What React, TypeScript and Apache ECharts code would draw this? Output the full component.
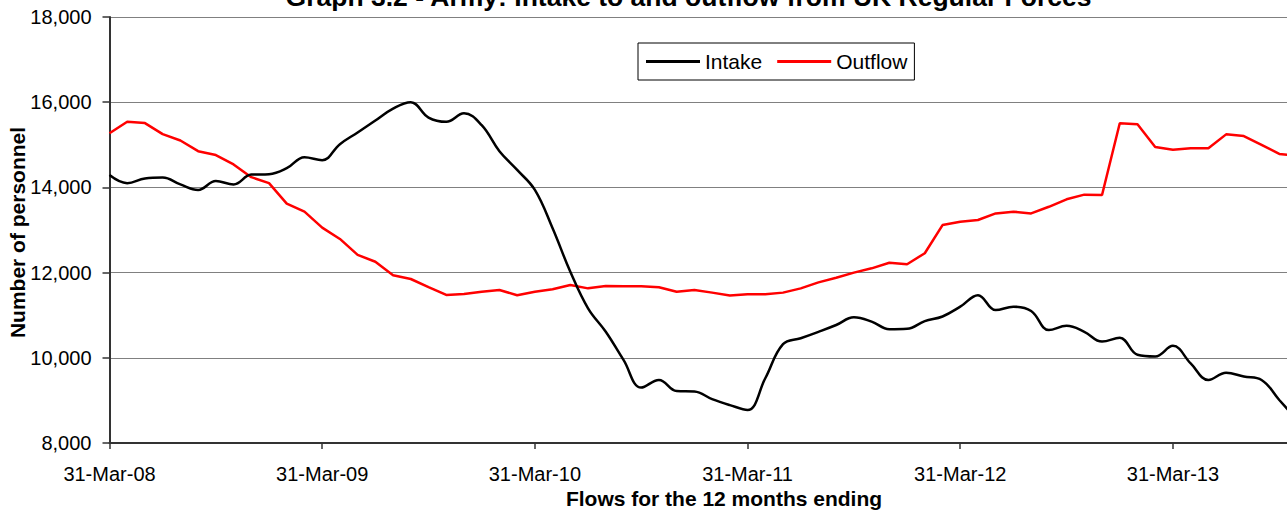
import React, { useEffect, useRef } from "react";
import * as echarts from "echarts";

const categories: string[] = [
  "31-Mar-08", "30-Apr-08", "31-May-08", "30-Jun-08", "31-Jul-08", "31-Aug-08", "30-Sep-08", "31-Oct-08", "30-Nov-08", "31-Dec-08",
  "31-Jan-09", "28-Feb-09", "31-Mar-09", "30-Apr-09", "31-May-09", "30-Jun-09", "31-Jul-09", "31-Aug-09", "30-Sep-09", "31-Oct-09", "30-Nov-09", "31-Dec-09",
  "31-Jan-10", "28-Feb-10", "31-Mar-10", "30-Apr-10", "31-May-10", "30-Jun-10", "31-Jul-10", "31-Aug-10", "30-Sep-10", "31-Oct-10", "30-Nov-10", "31-Dec-10",
  "31-Jan-11", "28-Feb-11", "31-Mar-11", "30-Apr-11", "31-May-11", "30-Jun-11", "31-Jul-11", "31-Aug-11", "30-Sep-11", "31-Oct-11", "30-Nov-11", "31-Dec-11",
  "31-Jan-12", "29-Feb-12", "31-Mar-12", "30-Apr-12", "31-May-12", "30-Jun-12", "31-Jul-12", "31-Aug-12", "30-Sep-12", "31-Oct-12", "30-Nov-12", "31-Dec-12",
  "31-Jan-13", "28-Feb-13", "31-Mar-13", "30-Apr-13", "31-May-13", "30-Jun-13", "31-Jul-13", "31-Aug-13", "30-Sep-13", "31-Oct-13",
];

const intake: number[] = [
  14290, 14100, 14210, 14230, 14070, 13940, 14150, 14070, 14300, 14310,
  14450, 14710, 14640, 15015, 15290, 15570, 15850, 16000, 15640, 15540, 15740, 15460,
  14850, 14410, 13940, 13040, 12020, 11160, 10610, 9950, 9300, 9480, 9220, 9210,
  9030, 8890, 8775, 9520, 10320, 10460, 10610, 10770, 10950, 10850, 10670, 10680,
  10860, 10970, 11200, 11470, 11120, 11200, 11100, 10650, 10750, 10610, 10380, 10470,
  10070, 10030, 10280, 9870, 9480, 9650, 9560, 9480, 9010, 8550,
];

const outflow: number[] = [
  15270, 15540, 15510, 15250, 15100, 14850, 14760, 14540, 14240, 14100,
  13620, 13430, 13055, 12790, 12415, 12255, 11940, 11850, 11660, 11475, 11500, 11550,
  11590, 11470, 11550, 11610, 11710, 11630, 11685, 11680, 11680, 11655, 11550, 11590,
  11530, 11460, 11490, 11490, 11530, 11630, 11770, 11880, 12000, 12100, 12230, 12195,
  12455, 13115, 13195, 13235, 13390, 13430, 13390, 13545, 13720, 13830, 13820, 15505,
  15480, 14950, 14885, 14920, 14920, 15245, 15205, 15000, 14785, 14740,
];

const yTicks = { min: 8000, max: 18000, interval: 2000 };

const FONT = '"Liberation Sans", Arial, Helvetica, sans-serif';

export default function App() {
  const ref = useRef<HTMLDivElement>(null);

  useEffect(() => {
    if (!ref.current) return;
    const chart = echarts.init(ref.current, undefined, { renderer: "svg" });
    chart.setOption({
      animation: false,
      backgroundColor: "#ffffff",
      grid: { left: 109.5, top: 17, bottom: 72, right: 23, containLabel: false },
      legend: {
        left: 638,
        top: 43,
        orient: "horizontal",
        icon: "rect",
        itemWidth: 54,
        itemHeight: 3,
        itemGap: 15,
        padding: [8, 7, 8, 8],
        borderColor: "#000",
        borderWidth: 1,
        backgroundColor: "#fff",
        textStyle: { fontFamily: FONT, fontSize: 21, color: "#000" },
        data: ["Intake", "Outflow"],
      },
      xAxis: {
        type: "category",
        data: categories,
        boundaryGap: false,
        axisLine: { show: true, lineStyle: { color: "#333", width: 2 } },
        axisTick: { show: true, interval: 11, length: 6, lineStyle: { color: "#333", width: 1.5 } },
        axisLabel: { interval: 11, fontFamily: FONT, fontSize: 20, color: "#000", margin: 21 },
        splitLine: { show: false },
      },
      yAxis: {
        type: "value",
        min: yTicks.min,
        max: yTicks.max,
        interval: yTicks.interval,
        axisLine: { show: true, lineStyle: { color: "#333", width: 2 } },
        axisTick: { show: true, length: 7, lineStyle: { color: "#333", width: 1.5 } },
        axisLabel: {
          fontFamily: FONT,
          fontSize: 20,
          color: "#000",
          margin: 18,
          formatter: (v: number) => v.toLocaleString("en-US"),
        },
        splitLine: { show: true, lineStyle: { color: "#808080", width: 1 } },
      },
      series: [
        {
          name: "Intake",
          type: "line",
          data: intake,
          smooth: 0.4,
          symbol: "none",
          color: "#000000",
          lineStyle: { color: "#000000", width: 2.5 },
          z: 3,
        },
        {
          name: "Outflow",
          type: "line",
          data: outflow,
          smooth: false,
          symbol: "none",
          color: "#FF0000",
          lineStyle: { color: "#FF0000", width: 2.5 },
          z: 2,
        },
      ],
      graphic: [
        {
          type: "text",
          x: 688.5,
          y: -3,
          style: {
            text: "Graph 3.2 - Army: Intake to and outflow from UK Regular Forces",
            font: `bold 26.5px ${FONT}`,
            fill: "#000",
            align: "center",
            verticalAlign: "middle",
          },
        },
        {
          type: "text",
          x: 724,
          y: 498,
          style: {
            text: "Flows for the 12 months ending",
            font: `bold 21px ${FONT}`,
            fill: "#000",
            align: "center",
            verticalAlign: "middle",
          },
        },
        {
          type: "text",
          x: 17.5,
          y: 232.5,
          rotation: Math.PI / 2,
          style: {
            text: "Number of personnel",
            font: `bold 21px ${FONT}`,
            fill: "#000",
            align: "center",
            verticalAlign: "middle",
          },
        },
      ],
    });
    return () => chart.dispose();
  }, []);

  return (
    <div style={{ position: "fixed", left: 0, top: 0, width: 1287, height: 515, overflow: "hidden", background: "#fff" }}>
      <div ref={ref} style={{ position: "absolute", left: 0, top: 0, width: 1320, height: 515 }} />
    </div>
  );
}
